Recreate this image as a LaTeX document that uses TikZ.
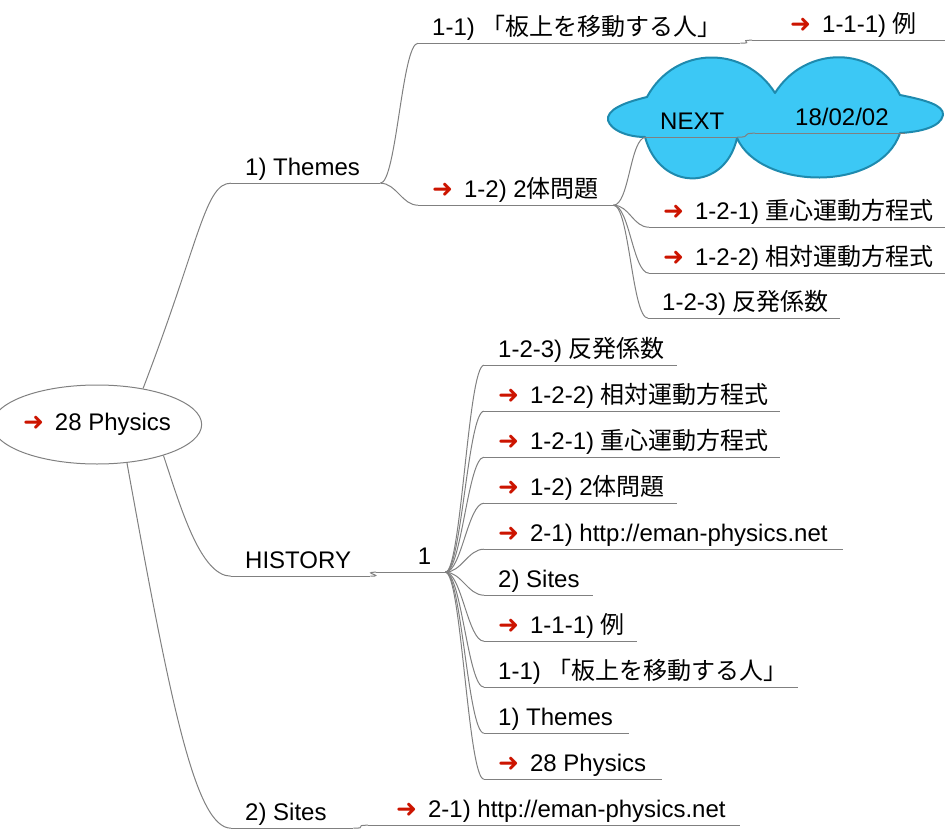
\documentclass[tikz,border=0pt]{standalone}
\usepackage{fontspec}
\setmainfont{Liberation Sans}
\newfontfamily\cjk{Noto Sans CJK JP}
\newfontfamily\symf{DejaVu Sans}
\usetikzlibrary{shapes.geometric}
\definecolor{arrowred}{RGB}{204,20,0}
\definecolor{linegray}{RGB}{128,128,128}
\definecolor{cloudfill}{RGB}{60,200,245}
\definecolor{clouddraw}{RGB}{30,138,174}
\newcommand\arr{\textcolor{arrowred}{\symf\fontsize{25}{25}\selectfont ➜}\hspace{11pt}}
\newcommand\wb[2]{\makebox[#1pt][l]{#2}}
\begin{document}
\begin{tikzpicture}[x=1pt,y=-1pt,
  topic/.style={anchor=base west, inner xsep=14pt, inner ysep=0pt,
    text height=18pt, text depth=8pt, font=\fontsize{24}{28}\selectfont},
  ul/.style={draw=linegray, line width=1pt},
  edge/.style={draw=linegray, line width=1pt},
  cloudshape/.style={fill=cloudfill, draw=clouddraw, line width=2pt, line join=round}]
\useasboundingbox (0,0) rectangle (945,830);

% cloud behind NEXT / 18/02/02
\path[cloudshape] (647,97)
  .. controls (675,45) and (745,45) .. (775,93)
  .. controls (805,45) and (875,45) .. (900,95)
  .. controls (925,100) and (944,105) .. (943,115)
  .. controls (941,127) and (920,132) .. (900,133)
  .. controls (880,193) and (760,190) .. (737,138)
  .. controls (725,192) and (660,192) .. (645,137)
  .. controls (622,137) and (606,126) .. (608,117)
  .. controls (611,106) and (635,100) .. (647,97) -- cycle;

% root
\node[ellipse, draw=linegray, line width=1pt, minimum width=192pt, minimum height=79pt,
  inner sep=0pt, font=\fontsize{24}{28}\selectfont] (root) at (97,424.5) {\arr 28 Physics};

% level 1
\node[topic] (themes) at (231,175) {\wb{121}{1) Themes}};
\node[topic] (hist)   at (231,568) {\wb{111}{HISTORY}};
\node[topic] (sites)  at (231,820) {\wb{94}{2) Sites}};

% Themes subtree
\node[topic] (t11)  at (418,35)  {\wb{294}{1-1) {\cjk 「板上を移動する人」}}};
\node[topic] (t111) at (752,32)  {\wb{165}{\hspace{24pt}\arr 1-1-1) {\cjk 例}}};
\node[topic] (t12)  at (418,197) {\wb{167}{\arr 1-2) 2{\cjk 体問題}}};
\node[topic] (next) at (646,129) {\wb{63}{NEXT}};
\node[topic] (date) at (755,125) {\wb{122}{\hspace{26pt}18/02/02}};
\node[topic] (t121) at (649,219) {\wb{268}{\arr 1-2-1) {\cjk 重心運動方程式}}};
\node[topic] (t122) at (649,265) {\wb{268}{\arr 1-2-2) {\cjk 相対運動方程式}}};
\node[topic] (t123) at (648,310) {\wb{164}{1-2-3) {\cjk 反発係数}}};

% HISTORY subtree
\node[topic] (one) at (376,564) {\makebox[41pt][r]{1}};
\node[topic] (h1)  at (484,357) {\wb{165}{1-2-3) {\cjk 反発係数}}};
\node[topic] (h2)  at (484,403) {\wb{268}{\arr 1-2-2) {\cjk 相対運動方程式}}};
\node[topic] (h3)  at (484,449) {\wb{268}{\arr 1-2-1) {\cjk 重心運動方程式}}};
\node[topic] (h4)  at (484,495) {\wb{165}{\arr 1-2) 2{\cjk 体問題}}};
\node[topic] (h5)  at (484,541) {\wb{331}{\arr 2-1) http://eman-physics.net}};
\node[topic] (h6)  at (484,587) {\wb{81}{2) Sites}};
\node[topic] (h7)  at (484,633) {\wb{125}{\arr 1-1-1) {\cjk 例}}};
\node[topic] (h8)  at (484,679) {\wb{286}{1-1) {\cjk 「板上を移動する人」}}};
\node[topic] (h9)  at (484,725) {\wb{117}{1) Themes}};
\node[topic] (h10) at (484,771) {\wb{150}{\arr 28 Physics}};

% Sites subtree
\node[topic] (s21) at (368,817) {\wb{344}{\hspace{14pt}\arr 2-1) http://eman-physics.net}};

% underlines
\foreach \n in {themes,hist,sites,t11,t111,t12,next,date,t121,t122,t123,one,h1,h2,h3,h4,h5,h6,h7,h8,h9,h10,s21}
  \draw[ul] (\n.south west) -- (\n.south east);

% connectors from root
\draw[edge] (root.38) .. controls (200,240) and (205,183) .. (themes.south west);
\draw[edge] (root.-25) .. controls (180,505) and (200,576) .. (hist.south west);
\draw[edge] (root.-52) .. controls (170,700) and (195,828) .. (sites.south west);

% other connectors
\foreach \a/\b in {themes/t11,themes/t12,t11/t111,t12/next,next/date,t12/t121,t12/t122,t12/t123,
  hist/one,one/h1,one/h2,one/h3,one/h4,one/h5,one/h6,one/h7,one/h8,one/h9,one/h10,sites/s21}
  \draw[edge] (\a.south east) .. controls +(16,0) and +(-16,0) .. (\b.south west);
\end{tikzpicture}
\end{document}
